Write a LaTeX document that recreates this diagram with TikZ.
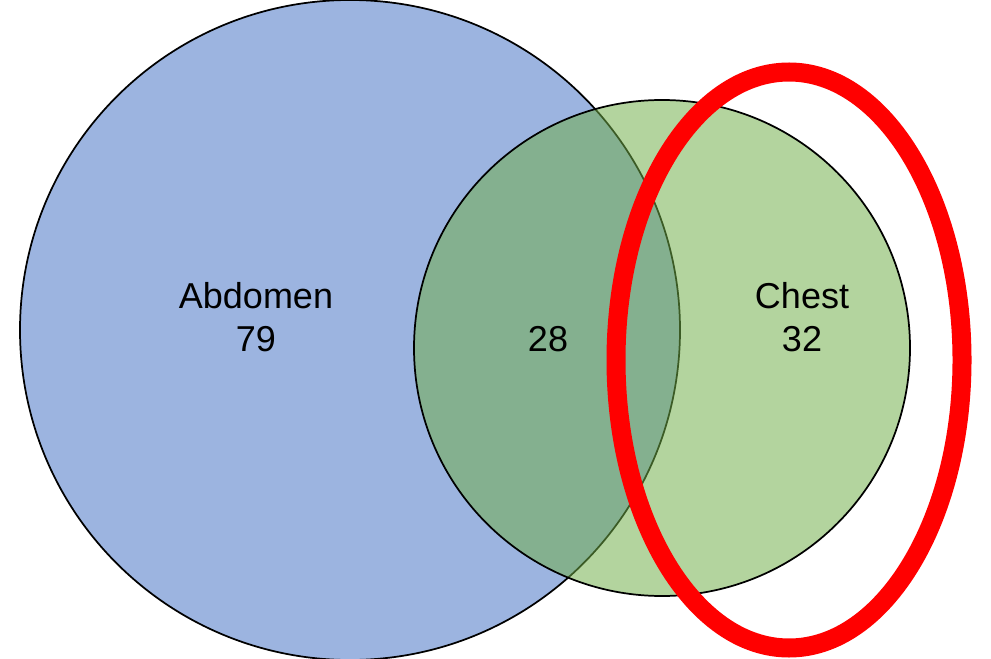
\documentclass[tikz,border=0pt]{standalone}
\usepackage{fontspec}
\setmainfont{Liberation Sans}
\definecolor{setblue}{RGB}{68,114,196}
\definecolor{setgreen}{RGB}{112,173,71}
\definecolor{markred}{RGB}{255,0,0}
\tikzset{
  setcircle/.style={draw=black, line width=1.3pt, fill opacity=0.53},
  setlabel/.style={align=center, font=\fontsize{27}{32}\selectfont}
}
\begin{document}
\begin{tikzpicture}[x=0.75pt, y=-0.75pt]
  \useasboundingbox (0,0) rectangle (991,659);
  \draw[setcircle, fill=setblue] (350,330) circle (330);
  \draw[setcircle, fill=setgreen] (662,348) circle (248);
  \draw[markred, line width=14.25pt] (789,360) ellipse (173 and 288);
  \node[setlabel] (abdomen) at (256,317) {Abdomen\\79};
  \node[setlabel] (both) at (548,339) {28};
  \node[setlabel] (chest) at (802,317) {Chest\\32};
\end{tikzpicture}
\end{document}
